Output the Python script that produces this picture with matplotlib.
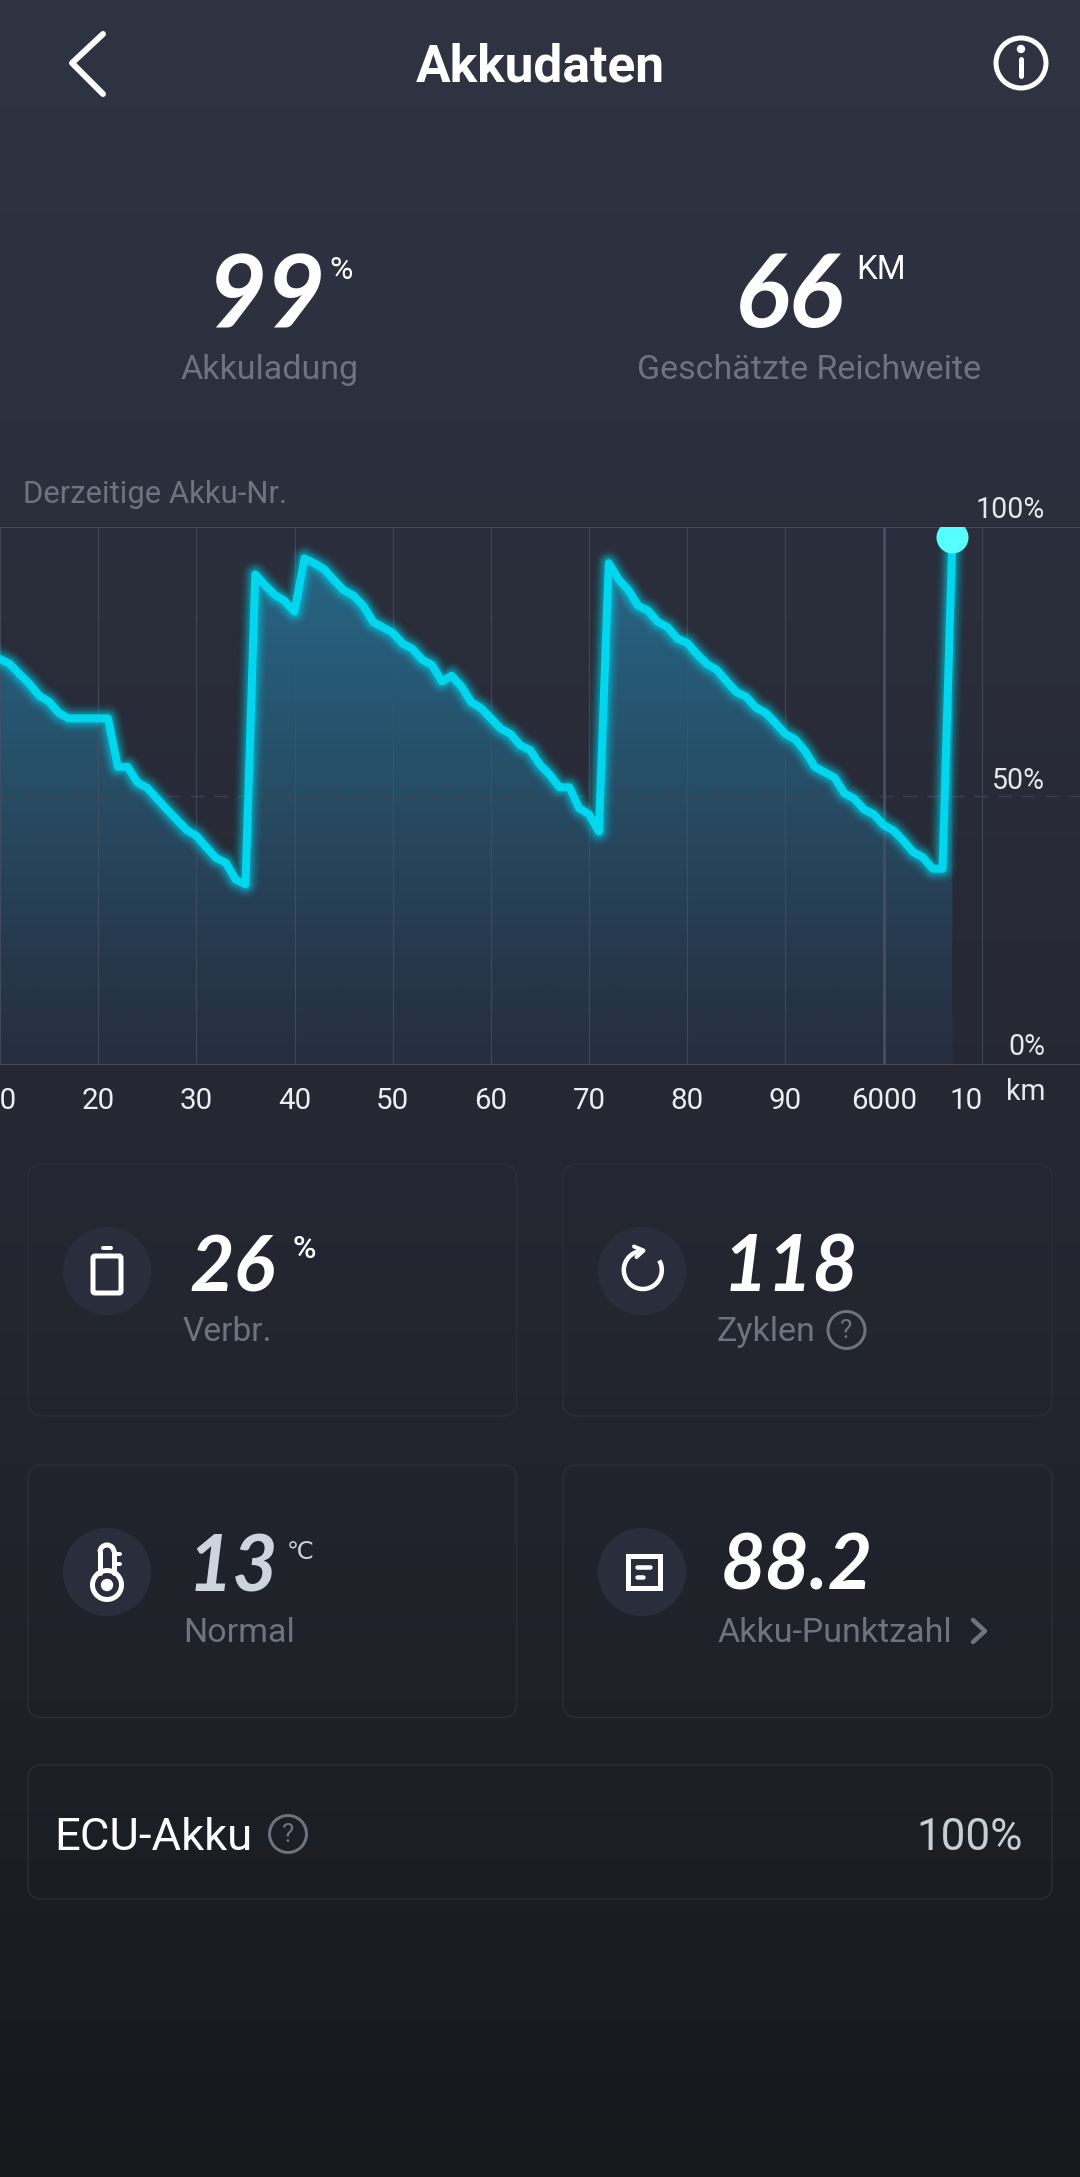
import numpy as np
import matplotlib
matplotlib.use('Agg')
from matplotlib import pyplot as plt
from matplotlib.patches import Circle, FancyBboxPatch, Polygon, Rectangle, Arc
from matplotlib.transforms import ScaledTranslation

plt.rcParams['font.family'] = ['Roboto', 'DejaVu Sans']

# akku verlauf, ein wert pro km ab 5910
charge = [75.4, 74.5, 72.6, 70.8, 68.6, 67.5, 65.4, 64.4, 64.4, 64.4, 64.4, 64.4, 55.4, 55.4,
          52.5, 51.5, 49.5, 47.5, 45.6, 43.7, 42.6, 40.5, 38.5, 37.6, 34.5, 33.6,
          91.1, 89.1, 87.3, 86.2, 84.2, 94.1, 93.2, 92.1, 90.1, 88.2, 87.2, 85.3, 82.3, 81.3,
          80.3, 78.3, 77.3, 75.3, 74.3, 71.3, 72.3, 70.3, 67.4, 66.3, 64.4, 62.5, 61.5, 59.4, 58.5,
          55.8, 53.9, 51.6, 51.6, 47.7, 46.6, 43.4,
          93.2, 90.2, 88.2, 85.3, 84.4, 82.3, 81.3, 79.2, 78.4, 76.3, 74.5, 73.4, 71.3, 69.3, 68.4,
          66.4, 65.4, 63.5, 61.5, 60.5, 58.3, 55.4, 54.4, 53.4, 50.5, 49.5, 47.5, 46.6, 44.6, 43.6,
          41.7, 39.6, 38.6, 36.5, 36.5, 98.1]
km = np.arange(5910, 5910 + len(charge))

tick_km = [5910, 5920, 5930, 5940, 5950, 5960, 5970, 5980, 5990, 6000, 6010]
tick_labels = ['10', '20', '30', '40', '50', '60', '70', '80', '90', '6000', '10']
percent_labels = ['100%', '50%', '0%']

W, H = 1080, 2177
PT = 0.72  # px nach pt bei dpi 100
WHITE = '#ffffff'
GREY = '#6f737f'
CYAN = '#00d6ee'

fig = plt.figure(figsize=(W / 100, H / 100), dpi=100)

# hintergrund + alles was kein diagramm ist, in pixelkoordinaten
bg = fig.add_axes([0, 0, 1, 1])
bg.set_xlim(0, W)
bg.set_ylim(H, 0)
bg.axis('off')

stops_y = [0, 420, 1150, 1700, 2177]
stops_rgb = np.array([[48, 52, 66], [44, 47, 61], [37, 40, 50], [31, 33, 41], [23, 24, 28]]) / 255
rows = np.arange(H)
grad = np.stack([np.interp(rows, stops_y, stops_rgb[:, i]) for i in range(3)], axis=1)
bg.imshow(grad[:, None, :], extent=(0, W, H, 0), aspect='auto', zorder=0)


def txt(x, y, s, size, color=WHITE, ha='left', **kw):
    bg.text(x, y, s, fontsize=size * PT, color=color, ha=ha, va='baseline', zorder=5, **kw)


def stroke(xs, ys, width, color=WHITE):
    bg.plot(xs, ys, color=color, lw=width * PT, solid_capstyle='round', solid_joinstyle='round', zorder=5)


def help_icon(x, y):
    bg.add_patch(Circle((x, y), 18.5, fill=False, ec=GREY, lw=3 * PT, zorder=5))
    bg.text(x, y + 1, '?', fontsize=26 * PT, color=GREY, ha='center', va='center', zorder=5)


# kopfzeile
stroke([103, 72, 103], [34, 63, 94], 6)
txt(540, 81, 'Akkudaten', 51.5, ha='center', fontweight='bold')
bg.add_patch(Circle((1021, 63), 25, fill=False, ec=WHITE, lw=5 * PT, zorder=5))
stroke([1021, 1021], [59, 76], 5)
bg.add_patch(Circle((1021, 49), 3.5, color=WHITE, zorder=5))

# werte oben
big = dict(family=['Lato', 'DejaVu Sans'], style='italic', fontweight='bold')
txt(266, 327, '99', 102, ha='center', **big)
txt(329, 279, '%', 32)
txt(789, 327, '66', 102, ha='center', **big)
txt(856, 279, 'KM', 33)
txt(270, 379, 'Akkuladung', 34, GREY, ha='center')
txt(809, 379, 'Geschätzte Reichweite', 34, GREY, ha='center')
txt(23, 503, 'Derzeitige Akku-Nr.', 31, GREY)

# diagramm
top, bottom = 526.5, 1065.4
ax = fig.add_axes([0, 1 - bottom / H, 1, (bottom - top) / H])
ax.patch.set_alpha(0)
ax.set_xlim(5910, 6020)
ax.set_ylim(0, 100)
for s in ax.spines.values():
    s.set_visible(False)
ax.yaxis.set_visible(False)

fill_pos = [0, 0.15, 0.5, 0.8, 1]
fill_rgb = np.array([[38, 102, 134], [38, 96, 126], [39, 76, 100], [38, 56, 76], [38, 46, 63]]) / 255
grad_rows = np.linspace(0, 1, 256)
fill = np.stack([np.interp(grad_rows, fill_pos, fill_rgb[:, i]) for i in range(3)], axis=1)
im = ax.imshow(fill[:, None, :], extent=(5910, 6020, 0, 100), aspect='auto', zorder=1)
poly = Polygon(np.column_stack([np.r_[km[0], km, km[-1]], np.r_[0, charge, 0]]),
               transform=ax.transData, fc='none', ec='none')
ax.add_patch(poly)
im.set_clip_path(poly)
ax.set_xlim(5910, 6020)
ax.set_ylim(0, 100)

for k in tick_km:
    if k == 6000:
        ax.axvline(k, color='#454b61', lw=2.2, zorder=2)
    else:
        ax.axvline(k, color='#4a5064', lw=0.8, alpha=0.75, zorder=2)
ax.axhline(100, color='#474b5a', lw=1.4, zorder=2)
ax.axhline(0, color='#474b5a', lw=1.4, zorder=2)
ax.axhline(50, color='#424656', lw=0.9, ls=(0, (11, 8)), alpha=0.8, zorder=2)

# leuchten um die linie
for lw, a in zip([28, 25, 22, 19.5, 17, 14.5, 12], [0.035, 0.05, 0.06, 0.08, 0.1, 0.13, 0.18]):
    ax.plot(km, charge, color=CYAN, lw=lw * PT, alpha=a, solid_joinstyle='round', zorder=3)
ax.plot(km, charge, color=CYAN, lw=8 * PT, solid_joinstyle='round', zorder=4)
ax.scatter(km[-1], charge[-1], s=(32 * PT) ** 2, color='#55ffff', linewidths=0, zorder=5)

ax.set_xticks(tick_km)
ax.set_xticklabels(tick_labels, fontsize=29.5 * PT, color='#eceef2')
ax.tick_params(axis='x', length=0, pad=15.5)
# letztes label sitzt links vom gitter, sonst stoesst es an km
last = ax.get_xticklabels()[-1]
last.set_transform(last.get_transform() + ScaledTranslation(-15.5 / 100, 0, fig.dpi_scale_trans))

for lab, y in zip(percent_labels, [518, 789, 1055]):
    txt(1045, y, lab, 28.5, '#e6e8ec', ha='right')
txt(1045, 1100, 'km', 28.5, '#e6e8ec', ha='right')

# karten
cards = [(28, 1164, 488.5, 252), (563, 1164, 489, 252), (28, 1465, 488.5, 252.5), (563, 1465, 489, 252.5),
         (28, 1765, 1024, 134)]
for x, y, w, h in cards:
    bg.add_patch(FancyBboxPatch((x + 14, y + 14), w - 28, h - 28, boxstyle='round,pad=14,rounding_size=14',
                                fc='none', ec='#2b2e38', lw=1, zorder=2))

for cx, cy in [(107, 1271), (642, 1271), (107, 1572), (642, 1572)]:
    bg.add_patch(Circle((cx, cy), 43.5, color='#2a2d3b', zorder=3))

# batterie
bg.add_patch(FancyBboxPatch((94, 1257), 26, 35, boxstyle='round,pad=1,rounding_size=2', fc='none', ec=WHITE,
                            lw=5 * PT, zorder=5))
stroke([103, 111], [1247.5, 1247.5], 4)

# kreis mit pfeil (y-achse ist gedreht, daher winkel gespiegelt)
bg.add_patch(Arc((642.8, 1270), 38, 38, theta1=-30, theta2=260, ec=WHITE, lw=4.5 * PT, zorder=5))
stroke([634, 643.5, 636.5], [1246.5, 1250.5, 1257], 4)

# thermometer
bg.add_patch(Circle((107, 1585), 14.5, fc='none', ec=WHITE, lw=5 * PT, zorder=5))
bg.add_patch(Circle((107, 1585), 5.5, color=WHITE, zorder=6))
stroke([100, 100], [1573, 1552], 5)
stroke([114, 114], [1573, 1552], 5)
bg.add_patch(Arc((107, 1552), 14, 14, theta1=180, theta2=360, ec=WHITE, lw=5 * PT, zorder=5))
stroke([115, 120], [1554, 1554], 4)
stroke([115, 120], [1564, 1564], 4)

# liste
bg.add_patch(Rectangle((627.5, 1555.5), 32, 32, fc='none', ec=WHITE, lw=5 * PT, zorder=5))
stroke([637, 650], [1567, 1567], 4.5)
stroke([637, 643], [1577, 1577], 4.5)

stat = dict(family=['Lato', 'DejaVu Sans'], style='italic', fontweight='bold')
txt(232, 1291, '26', 77, ha='center', **stat)
txt(293, 1258, '%', 32, fontweight='medium')
txt(791, 1291, '118', 78, ha='center', **stat)
txt(233, 1592, '13', 78, '#cdd3df', ha='center', **stat)
txt(287, 1559, '℃', 24, '#cdd3df')
txt(797, 1590, '88.2', 77, ha='center', **stat)

txt(183, 1341, 'Verbr.', 33.5, GREY)
txt(717, 1341, 'Zyklen', 34, GREY)
help_icon(846.5, 1330)
txt(183, 1642, 'Normal', 34, GREY)
txt(717, 1642, 'Akku-Punktzahl', 34, GREY)
stroke([973, 985, 973], [1620, 1631, 1642], 4.5, GREY)

txt(54, 1850, 'ECU-Akku', 45.5)
help_icon(288, 1834)
txt(1023, 1850, '100%', 44, '#c9cdd5', ha='right')

fig.savefig('out.png', dpi=100)
